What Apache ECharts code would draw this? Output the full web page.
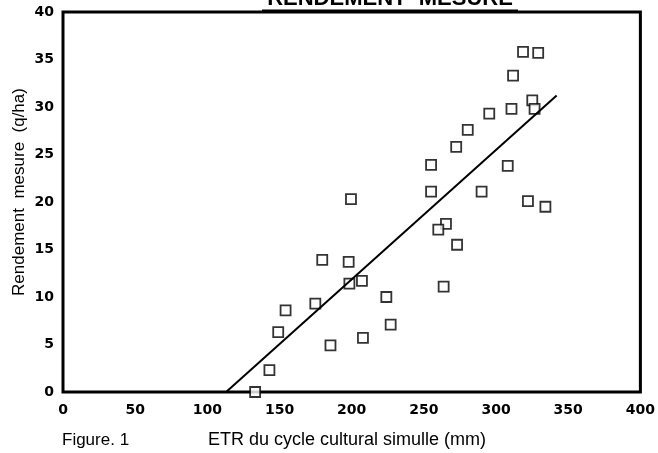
<!DOCTYPE html>
<html>
<head>
<meta charset="utf-8">
<script src="https://cdn.jsdelivr.net/npm/echarts@6/dist/echarts.min.js"></script>
<style>
  html, body { margin: 0; padding: 0; background: #fff; }
  #chart { width: 658px; height: 453px; }
</style>
</head>
<body>
<div id="chart"></div>
<script>
  var etr = [318.7, 329.2, 311.8, 325.1, 326.7, 310.7, 295.3, 280.4, 272.4, 255, 308.1, 255, 290, 199.5,
    322.1, 334.2, 265.3, 260, 273, 263.7, 179.6, 197.9, 198.4, 207.1, 224, 174.8, 154.2, 149.1, 227,
    207.8, 185.3, 143, 133.1];
  var rendement = [35.8, 35.7, 33.3, 30.7, 29.8, 29.8, 29.3, 27.6, 25.8, 23.9, 23.8, 21.1, 21.1, 20.3,
    20.1, 19.5, 17.7, 17.1, 15.5, 11.1, 13.9, 13.7, 11.4, 11.7, 10.0, 9.3, 8.6, 6.3, 7.1,
    5.7, 4.9, 2.3, 0];
  // droite de régression (extrémités)
  var droiteX = [113, 342];
  var droiteY = [0, 31.2];

  var xTicks = [0, 50, 100, 150, 200, 250, 300, 350, 400];
  var yTicks = [0, 5, 10, 15, 20, 25, 30, 35, 40];

  var points = etr.map(function (x, i) { return [x, rendement[i]]; });
  var droite = droiteX.map(function (x, i) { return [x, droiteY[i]]; });

  var font = '"Liberation Sans", Arial, sans-serif';
  var tickFont = '"DejaVu Sans", "Liberation Sans", sans-serif';

  var chartDom = document.getElementById('chart');
  var myChart = echarts.init(chartDom);
  var option = {
    animation: false,
    backgroundColor: '#fff',
    grid: {
      left: 63, right: 15, top: 12, bottom: 61,
      show: true, borderColor: '#000', borderWidth: 3
    },
    xAxis: {
      type: 'value',
      min: xTicks[0], max: xTicks[xTicks.length - 1], interval: 50,
      axisLine: { show: false },
      axisTick: { show: false },
      splitLine: { show: false },
      axisLabel: { color: '#000', fontFamily: tickFont, fontWeight: 'bold', fontSize: 14, margin: 11 }
    },
    yAxis: {
      type: 'value',
      min: yTicks[0], max: yTicks[yTicks.length - 1], interval: 5,
      axisLine: { show: false },
      axisTick: { show: false },
      splitLine: { show: false },
      axisLabel: { color: '#000', fontFamily: tickFont, fontWeight: 'bold', fontSize: 14, margin: 9 }
    },
    series: [
      {
        type: 'scatter',
        data: points,
        symbol: 'rect',
        symbolSize: 10,
        itemStyle: { color: '#fff', borderColor: '#000', borderWidth: 1.8 }
      },
      {
        type: 'line',
        data: droite,
        symbol: 'none',
        lineStyle: { color: '#000', width: 2 }
      }
    ],
    graphic: [
      {
        type: 'text', x: 390, y: -1,
        style: { text: 'RENDEMENT  MESURE', font: 'bold 22px ' + font, fill: '#000', align: 'center', verticalAlign: 'middle' }
      },
      {
        type: 'line', shape: { x1: 262, y1: 11, x2: 518, y2: 11 },
        style: { stroke: '#000', lineWidth: 3 }
      },
      {
        type: 'text', x: 19, y: 192, rotation: Math.PI / 2,
        style: { text: 'Rendement  mesure  (q/ha)', font: '17px ' + font, fill: '#000', align: 'center', verticalAlign: 'middle' }
      },
      {
        type: 'text', x: 62, y: 440,
        style: { text: 'Figure. 1', font: '17px ' + font, fill: '#000', align: 'left', verticalAlign: 'middle' }
      },
      {
        type: 'text', x: 208, y: 440,
        style: { text: 'ETR du cycle cultural simulle (mm)', font: '18px ' + font, fill: '#000', align: 'left', verticalAlign: 'middle' }
      }
    ]
  };
  myChart.setOption(option);
</script>
</body>
</html>
